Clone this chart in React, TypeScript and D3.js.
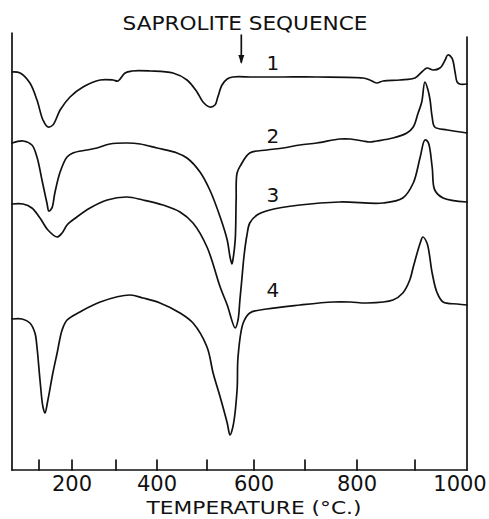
import React from 'react';
import * as d3 from 'd3';

// Temperature (°C) vs. DTA signal (arbitrary units above baseline)
const curve1: [number, number][] = [
  [20, 398], [44, 397], [73, 387], [94, 370], [112, 350], [127, 343], [142, 345], [164, 360], [194, 373],
  [225, 383], [264, 390], [293, 390], [305, 389], [322, 397], [339, 399], [383, 399], [432, 397], [460, 390],
  [480, 378], [492, 368], [506, 363], [517, 365], [523, 373], [532, 385], [543, 391], [555, 393], [598, 393],
  [657, 393], [723, 393], [810, 392], [822, 390], [834, 387], [845, 389], [874, 390], [900, 392], [913, 398],
  [923, 402], [935, 400], [948, 402], [958, 410], [963, 415], [971, 412], [977, 398], [981, 388], [986, 386],
  [1000, 386],
];
const curve2: [number, number][] = [
  [20, 327], [53, 329], [79, 325], [94, 313], [109, 290], [124, 267], [130, 259], [139, 262], [148, 277],
  [164, 298], [185, 313], [202, 317], [234, 320], [257, 322], [286, 326], [327, 327], [359, 326], [400, 322],
  [440, 317], [460, 312], [486, 298], [506, 280], [528, 253], [543, 230], [549, 213], [553, 206], [555, 210],
  [560, 230], [562, 270], [564, 297], [572, 305], [591, 317], [625, 320], [657, 322], [690, 325], [723, 327],
  [767, 331], [787, 331], [810, 329], [822, 328], [834, 329], [862, 332], [886, 337], [897, 343], [906, 357],
  [913, 368], [919, 388], [925, 380], [929, 370], [933, 353], [938, 343], [962, 340], [1000, 337],
];
const curve3: [number, number][] = [
  [20, 266], [53, 266], [79, 262], [103, 252], [127, 240], [155, 233], [170, 237], [185, 245], [211, 253],
  [241, 262], [280, 270], [327, 273], [366, 270], [412, 265], [446, 258], [472, 247], [500, 223], [528, 183],
  [543, 165], [560, 142], [566, 150], [570, 170], [574, 190], [579, 215], [585, 235], [591, 247], [606, 255],
  [631, 260], [690, 265], [767, 268], [845, 267], [879, 272], [897, 287], [910, 313], [919, 330], [925, 328],
  [933, 303], [938, 280], [954, 272], [1000, 268],
];
const curve4: [number, number][] = [
  [20, 151], [50, 151], [73, 147], [88, 137], [94, 123], [103, 90], [112, 63], [118, 57], [127, 70], [142, 97],
  [155, 117], [170, 140], [185, 150], [218, 158], [264, 168], [334, 175], [366, 172], [406, 167], [446, 157],
  [472, 147], [500, 123], [513, 97], [528, 73], [543, 47], [549, 35], [555, 43], [564, 80], [566, 113],
  [577, 147], [591, 157], [625, 161], [690, 165], [754, 168], [787, 168], [817, 167], [862, 170], [879, 177],
  [891, 190], [897, 203], [910, 227], [915, 233], [923, 227], [933, 197], [942, 178], [954, 168], [981, 166],
  [1000, 165],
];
const curves = [curve1, curve2, curve3, curve4];
const curveLabels = ['1', '2', '3', '4'];
const curveLabelValues = [400, 327, 268, 173];
const minorTicks = [100, 200, 300, 400, 500, 600, 700, 800, 900];
const tickLabels = [200, 400, 600, 800, 1000];
const arrowTemp = 573;
const title = 'SAPROLITE SEQUENCE';
const xTitle = 'TEMPERATURE (°C.)';

const W = 489;
const H = 519;
const left = 12;
const right = 467;
const bottom = 470;
const top = 33;

// The chart's temperature axis is not perfectly linear: polylinear scale
const x = d3
  .scaleLinear()
  .domain([20, 100, 200, 300, 400, 500, 600, 700, 800, 900, 1000])
  .range([left, 39, 72, 116, 157, 207, 254, 305, 357, 415, right]);
const y = d3.scaleLinear().domain([0, 437]).range([bottom, top]);

const line = d3
  .line<[number, number]>()
  .x((d) => x(d[0]))
  .y((d) => y(d[1]))
  .curve(d3.curveCatmullRom.alpha(0.5));

const font = "'DejaVu Sans', sans-serif";

export default function App() {
  const ax = x(arrowTemp);
  const labelX = x(637);
  return (
    <svg
      width={W}
      height={H}
      viewBox={`0 0 ${W} ${H}`}
      style={{ position: 'absolute', left: 0, top: 0, background: '#fff' }}
    >
      <rect x={0} y={0} width={W} height={H} fill="#fff" />
      <g fill="none" stroke="#111" strokeWidth={1.7} strokeLinejoin="round" strokeLinecap="round">
        <line x1={left} y1={top} x2={left} y2={bottom} />
        <line x1={right} y1={top + 4} x2={right} y2={bottom} />
        <line x1={left} y1={bottom} x2={right} y2={bottom} />
        {minorTicks.map((t) => (
          <line key={t} x1={x(t)} x2={x(t)} y1={bottom} y2={bottom - 10} />
        ))}
        {curves.map((c, i) => (
          <path key={i} d={line(c) || ''} />
        ))}
        <line x1={ax} x2={ax} y1={35} y2={62} />
      </g>
      <path d={`M${ax - 3},${55} L${ax},${64} L${ax + 3},${55} Z`} fill="#111" />
      <text
        x={245}
        y={30}
        textAnchor="middle"
        fontFamily={font}
        fontSize={20}
        textLength={245}
        lengthAdjust="spacingAndGlyphs"
        fill="#111"
      >
        {title}
      </text>
      {curveLabels.map((l, i) => (
        <text
          key={l}
          x={labelX}
          y={y(curveLabelValues[i])}
          textAnchor="middle"
          fontFamily={font}
          fontSize={20}
          fill="#111"
        >
          {l}
        </text>
      ))}
      {tickLabels.map((t) => (
        <text
          key={t}
          x={x(t) + (t === 1000 ? -7 : 0)}
          y={491}
          textAnchor="middle"
          fontFamily={font}
          fontSize={21}
          fill="#111"
        >
          {t}
        </text>
      ))}
      <text
        x={254}
        y={514}
        textAnchor="middle"
        fontFamily={font}
        fontSize={18}
        textLength={215}
        lengthAdjust="spacingAndGlyphs"
        fill="#111"
      >
        {xTitle}
      </text>
    </svg>
  );
}
